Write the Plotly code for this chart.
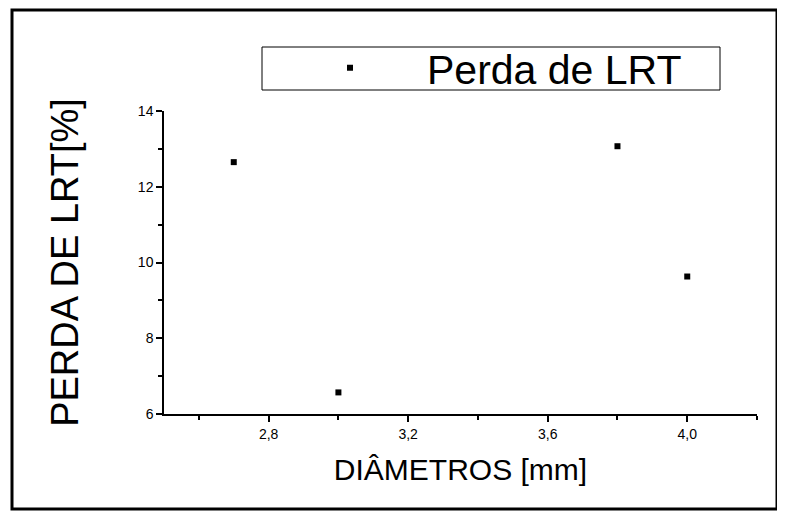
import plotly.graph_objects as go

# Data
diametros = [2.7, 3.0, 3.8, 4.0]
perda_lrt = [12.65, 6.57, 13.07, 9.63]
series_name = "Perda de LRT"
x_title = "DIÂMETROS [mm]"
y_title = "PERDA DE LRT[%]"
x_ticks = [2.8, 3.2, 3.6, 4.0]
y_ticks = [6, 8, 10, 12, 14]

# page body has an 8px margin; lay out in window coordinates
OFF = 8
W, H = 785 - OFF, 520 - OFF
AX_L, AX_R, AX_T, AX_B = 164, 757, 111, 414  # plot area in window px
L, R, T, B = AX_L - OFF, W - (AX_R - OFF), AX_T - OFF, H - (AX_B - OFF)
pw, ph = W - L - R, H - T - B

def px(x):
    return (x - OFF - L) / pw

def py(y):
    return (H - B - (y - OFF)) / ph

fig = go.Figure()
fig.add_trace(go.Scatter(
    x=diametros, y=perda_lrt, mode="markers", name=series_name,
    marker=dict(symbol="square", size=6, color="black", line=dict(width=0)),
))

axis_common = dict(
    showline=True, linecolor="black", linewidth=1.5,
    ticks="outside", tickcolor="black", tickwidth=1.5, ticklen=6,
    showgrid=False, zeroline=False, mirror=False,
    tickfont=dict(family="Liberation Sans, Arial", size=14, color="black"),
)

fig.update_layout(
    width=W, height=H,
    margin=dict(l=L, r=R, t=T, b=B),
    paper_bgcolor="white", plot_bgcolor="white",
    separators=",.",
    showlegend=True,
    xaxis=dict(
        range=[2.5, 4.2], tickvals=x_ticks, tickformat=".1f",
        minor=dict(dtick=0.2, tick0=2.6, ticks="outside", ticklen=4, tickwidth=1.5, tickcolor="black"),
        title=dict(text=x_title, font=dict(family="Liberation Sans, Arial", size=30, color="black"), standoff=18),
        **axis_common,
    ),
    yaxis=dict(
        range=[6, 14], tickvals=y_ticks,
        minor=dict(dtick=1, tick0=7, ticks="outside", ticklen=4, tickwidth=1.5, tickcolor="black"),
        title=dict(text=y_title, font=dict(family="Liberation Sans, Arial", size=38, color="black"), standoff=48),
        **axis_common,
    ),
    legend=dict(
        x=px(273), y=py(68), xanchor="left", yanchor="middle",
        xref="paper", yref="paper",
        bgcolor="rgba(0,0,0,0)", borderwidth=0,
        itemwidth=144,
        font=dict(family="Liberation Sans, Arial", size=41, color="black"),
    ),
    shapes=[
        dict(type="rect", xref="paper", yref="paper",
             x0=px(262), x1=px(720), y0=py(90), y1=py(47),
             line=dict(color="black", width=1), fillcolor="rgba(0,0,0,0)"),
        dict(type="rect", xref="paper", yref="paper",
             x0=px(12), x1=px(777), y0=py(509), y1=py(10),
             line=dict(color="black", width=3), fillcolor="rgba(0,0,0,0)"),
    ],
)

fig.write_html("out.html")
